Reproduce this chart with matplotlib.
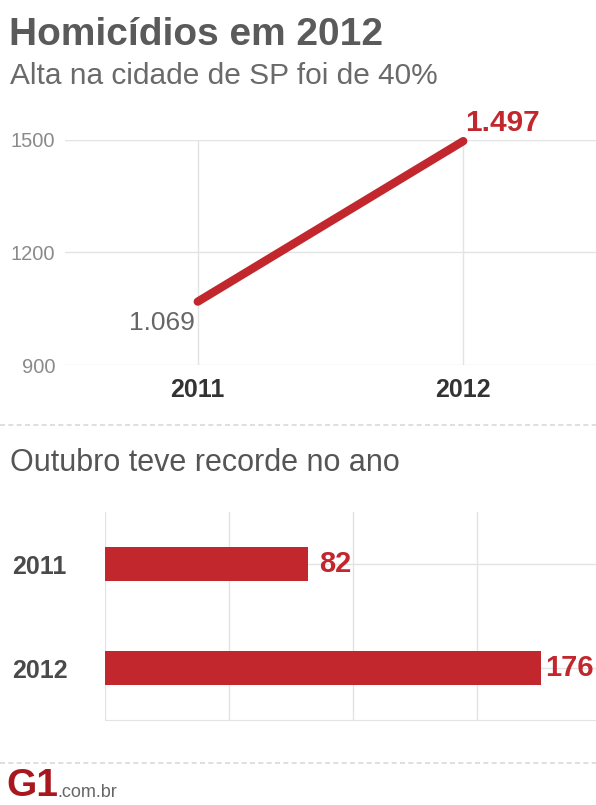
import matplotlib
matplotlib.use('Agg')
import matplotlib.pyplot as plt
from matplotlib.lines import Line2D

plt.rcParams['font.family'] = ['Liberation Sans', 'DejaVu Sans']

# dados
anos = [2011, 2012]
homicidios = [1069, 1497]
rotulos_linha = ['1.069', '1.497']
outubro = [82, 176]
anos_barra = ['2011', '2012']

red = '#c1272d'
grid_c = '#e3e3e3'
W, H = 596, 805

fig = plt.figure(figsize=(W / 100, H / 100), dpi=100)
fig.patch.set_facecolor('white')

def fx(px):
    return px / W

def fy(py):
    return 1 - py / H

fig.text(fx(9), fy(35), 'Homicídios em 2012', fontsize=28, fontweight='bold',
         color='#5a5a5a', va='center', ha='left')
fig.text(fx(10), fy(76), 'Alta na cidade de SP foi de 40%', fontsize=21.5,
         color='#6a6a6a', va='center', ha='left')

# grafico de linha
ax = fig.add_axes([fx(65), fy(365), fx(596) - fx(65), fy(140) - fy(365)])
ax.plot(anos, homicidios, color=red, lw=6, solid_capstyle='round', clip_on=False, zorder=3)
ax.set_xlim(2010.5, 2012.5)
ax.set_ylim(900, 1500)
ax.set_yticks([900, 1200, 1500])
ax.set_xticks(anos)
ax.set_xticklabels([str(a) for a in anos], fontsize=18, fontweight='bold', color='#333333')
for lab in ax.get_yticklabels():
    lab.set_fontsize(14.5)
    lab.set_color('#8a8a8a')
ax.tick_params(length=0)
ax.tick_params(axis='x', pad=9)
ax.tick_params(axis='y', pad=7)
for s in ax.spines.values():
    s.set_visible(False)
ax.grid(True, color=grid_c, lw=1)
ax.set_axisbelow(True)
ax.annotate(rotulos_linha[0], (anos[0], homicidios[0]), xytext=(-2, -7),
            textcoords='offset points', ha='right', va='top', fontsize=19, color='#666666')
ax.annotate(rotulos_linha[1], (anos[1], homicidios[1]), xytext=(1, 3),
            textcoords='offset points', ha='left', va='bottom', fontsize=21.5,
            fontweight='bold', color=red, annotation_clip=False)

# separadores
for y in (425, 763):
    fig.add_artist(Line2D([0, 1], [fy(y), fy(y)], transform=fig.transFigure,
                          color='#d9d9d9', lw=1.2, ls=(0, (3, 2))))

fig.text(fx(10), fy(463), 'Outubro teve recorde no ano', fontsize=22,
         color='#555555', va='center', ha='left')

# grafico de barras
ax2 = fig.add_axes([fx(105), fy(720), fx(596) - fx(105), fy(512) - fy(720)])
ypos = list(range(len(outubro)))
ax2.barh(ypos, outubro, height=0.33, color=red, zorder=3)
ax2.set_xlim(0, 198)
ax2.set_ylim(1.5, -0.5)
ax2.set_xticks([0, 50, 100, 150])
ax2.set_xticklabels([])
ax2.set_yticks(ypos)
ax2.set_yticklabels(anos_barra, fontsize=18, fontweight='bold', color='#4a4a4a')
ax2.tick_params(length=0)
ax2.tick_params(axis='y', pad=67)
for lab in ax2.get_yticklabels():
    lab.set_ha('left')
for s in ax2.spines.values():
    s.set_visible(False)
ax2.spines['bottom'].set_visible(True)
ax2.spines['bottom'].set_color(grid_c)
ax2.grid(True, color=grid_c, lw=1)
ax2.set_axisbelow(True)
for i, v in enumerate(outubro):
    ax2.annotate(str(v), (v, i), xytext=(3 if i else 8, 0), textcoords='offset points',
                 ha='left', va='center', fontsize=21, fontweight='bold', color=red,
                 annotation_clip=False)

# rodape
fig.text(fx(6), fy(786), 'G1', fontsize=28, fontweight='bold', color='#a8171d',
         va='center', ha='left')
fig.text(fx(57), fy(792), '.com.br', fontsize=13, color='#666666', va='center', ha='left')

fig.savefig('out.png', dpi=100)
